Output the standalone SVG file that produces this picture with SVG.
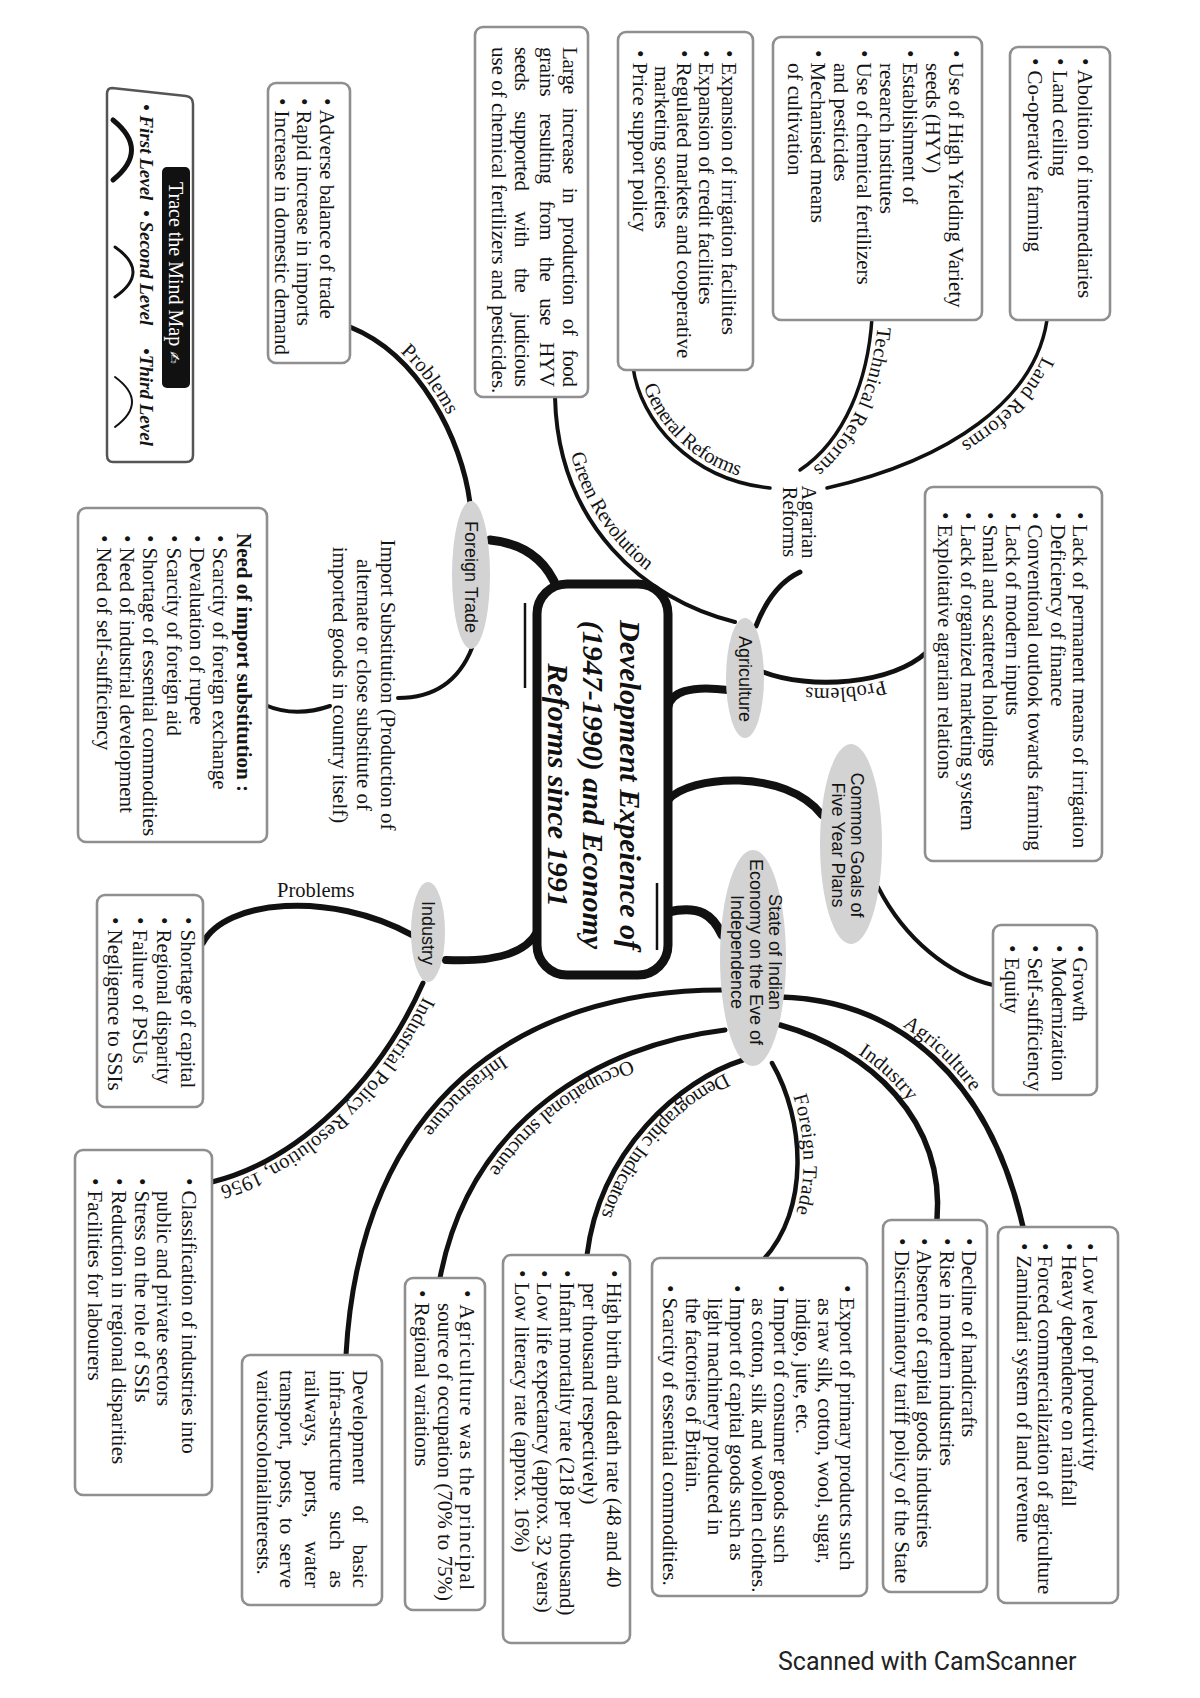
<svg xmlns="http://www.w3.org/2000/svg" width="1200" height="1698" viewBox="0 0 1200 1698">
<style>
.bx{fill:#fff;stroke:#8f8f8f;stroke-width:2.6}
.t{font-family:"Liberation Serif","Times New Roman",serif;font-size:21px;fill:#141414}
.nd{fill:#d3d3d3}
.nl{font-family:"Liberation Sans",Arial,sans-serif;font-size:18px;fill:#141414;text-anchor:middle}
.cl{font-family:"Liberation Serif","Times New Roman",serif;font-size:20.5px;fill:#141414}
.k{fill:none;stroke:#111;stroke-linecap:round}
.ttl{font-family:"Liberation Serif","Times New Roman",serif;font-size:30px;font-weight:bold;font-style:italic;fill:#111;text-anchor:middle}
.lg{font-family:"Liberation Serif","Times New Roman",serif;font-size:19px;font-weight:bold;font-style:italic;fill:#141414}
</style>
<rect width="1200" height="1698" fill="#fff"/>

<g id="connectors">
<path id="k1" class="k" stroke-width="9" d="M557,588 Q540,545 490,540"/>
<path id="k2" class="k" stroke-width="8" d="M668,708 C670,692 690,685 728,690"/>
<path id="k3" class="k" stroke-width="8" d="M668,800 C690,775 785,768 822,815"/>
<path id="k4" class="k" stroke-width="9" d="M668,912 C700,905 713,915 722,935"/>
<path id="k5" class="k" stroke-width="8" d="M537,932 C525,955 490,962 446,960"/>
<path id="pFTprob" class="k" stroke-width="5" d="M350,327 C420,355 462,440 470,503"/>
<path id="pFTimp" class="k" stroke-width="4" d="M472,648 Q452,698 398,698"/>
<path id="pImpNeed" class="k" stroke-width="4" d="M265,705 Q295,718 330,706"/>
<path id="pAgrarian" class="k" stroke-width="5" d="M756,626 Q772,585 800,572"/>
<path id="pGreen" class="k" stroke-width="4" d="M555,397 C558,525 645,600 735,622"/>
<path id="pGeneral" class="k" stroke-width="3.5" d="M633,367 C640,420 690,480 770,488"/>
<path id="pTech" class="k" stroke-width="3.5" d="M872,318 C868,380 845,440 800,470"/>
<path id="pLand" class="k" stroke-width="3.5" d="M1047,320 C1035,400 950,460 827,488"/>
<path id="pAgriProb" class="k" stroke-width="5" d="M927,652 C890,685 810,690 763,672"/>
<path id="pGoals" class="k" stroke-width="4" d="M878,887 C905,940 950,975 993,985"/>
<path id="pSAgri" class="k" stroke-width="5.5" d="M780,997 C900,1000 990,1080 1023,1227"/>
<path id="pSInd" class="k" stroke-width="5.5" d="M780,1025 C870,1050 945,1120 937,1220"/>
<path id="pSFT" class="k" stroke-width="4.5" d="M772,1063 C805,1120 810,1210 763,1260"/>
<path id="pSDem" class="k" stroke-width="5" d="M743,1060 C680,1080 600,1150 587,1255"/>
<path id="pSOcc" class="k" stroke-width="5" d="M725,1030 C600,1045 470,1120 440,1278"/>
<path id="pSInf" class="k" stroke-width="5" d="M722,990 C520,990 360,1100 346,1355"/>
<path id="pIProb" class="k" stroke-width="6" d="M203,943 C225,900 330,890 412,935"/>
<path id="pIPol" class="k" stroke-width="5" d="M423,983 C380,1080 300,1160 212,1182"/>

<text class="cl"><textPath href="#pFTprob" startOffset="55"><tspan dy="-6">Problems</tspan></textPath></text>
<text class="cl"><textPath href="#pGreen" startOffset="60"><tspan dy="-8">Green Revolution</tspan></textPath></text>
<text class="cl"><textPath href="#pGeneral" startOffset="22"><tspan dy="-6">General Reforms</tspan></textPath></text>
<text class="cl" font-size="19.5"><textPath href="#pTech" startOffset="8"><tspan dy="-6">Technical Reforms</tspan></textPath></text>
<text class="cl"><textPath href="#pLand" startOffset="35"><tspan dy="-6">Land Reforms</tspan></textPath></text>
<text class="cl"><textPath href="#pAgriProb" startOffset="50"><tspan dy="-6">Problems</tspan></textPath></text>
<text class="cl"><textPath href="#pSAgri" startOffset="125"><tspan dy="-6">Agriculture</tspan></textPath></text>
<text class="cl"><textPath href="#pSInd" startOffset="82"><tspan dy="-6">Industry</tspan></textPath></text>
<text class="cl"><textPath href="#pSFT" startOffset="38"><tspan dy="-6">Foreign Trade</tspan></textPath></text>
<text class="cl"><textPath href="#pSDem" startOffset="22"><tspan dy="-6">Demographic Indicators</tspan></textPath></text>
<text class="cl"><textPath href="#pSOcc" startOffset="100"><tspan dy="-6">Occupational structure</tspan></textPath></text>
<text class="cl"><textPath href="#pSInf" startOffset="235"><tspan dy="-6">Infrastructure</tspan></textPath></text>
<text class="cl"><textPath href="#pIPol" startOffset="12"><tspan dy="-6">Industrial Policy Resolution, 1956</tspan></textPath></text>
<text class="cl" x="277" y="897" font-size="21">Problems</text>
</g>

<g id="center">
<rect x="537" y="584" width="131" height="391" rx="30" fill="#fff" stroke="#111" stroke-width="9"/>
<line x1="525" y1="603" x2="525" y2="688" stroke="#111" stroke-width="2.5"/>
<line x1="657" y1="883" x2="657" y2="950" stroke="#111" stroke-width="2.5"/>
<text class="ttl" transform="translate(620,785) rotate(90)">Development Expeience of</text>
<text class="ttl" transform="translate(583,785) rotate(90)">(1947-1990) and Economy</text>
<text class="ttl" transform="translate(548,785) rotate(90)">Reforms since 1991</text>
</g>

<g id="node-foreign-trade"><ellipse class="nd" cx="471" cy="575" rx="19" ry="74"/><text class="nl" transform="translate(465,577) rotate(90)">Foreign Trade</text></g>
<g id="node-agriculture"><ellipse class="nd" cx="745" cy="678" rx="19" ry="60"/><text class="nl" transform="translate(739,679) rotate(90)">Agriculture</text></g>
<g id="node-industry"><ellipse class="nd" cx="428" cy="932" rx="17" ry="50"/><text class="nl" transform="translate(422,933) rotate(90)">Industry</text></g>
<g id="node-common-goals"><ellipse class="nd" cx="851" cy="844" rx="31" ry="100"/><text class="nl" transform="translate(851,845) rotate(90)">Common Goals of</text><text class="nl" transform="translate(832,845) rotate(90)">Five Year Plans</text></g>
<g id="node-state"><ellipse class="nd" cx="753" cy="958" rx="33" ry="108"/><text class="nl" transform="translate(769,952) rotate(90)">State of Indian</text><text class="nl" transform="translate(750,952) rotate(90)">Economy on the Eve of</text><text class="nl" transform="translate(731,952) rotate(90)">Independence</text></g>
<g id="node-agrarian"><text class="cl" text-anchor="middle" transform="translate(802,522) rotate(90)">Agrarian</text><text class="cl" text-anchor="middle" transform="translate(783,522) rotate(90)">Reforms</text></g>
<g id="node-import-sub"><text class="t" text-anchor="middle" transform="translate(381,685) rotate(90)">Import Substitution (Production of</text><text class="t" text-anchor="middle" transform="translate(357,685) rotate(90)">alternate or close substitute of</text><text class="t" text-anchor="middle" transform="translate(333,685) rotate(90)">imported goods in country itself)</text></g>

<g id="box-land" transform="translate(1110,47) rotate(90)">
<rect class="bx" width="273" height="100" rx="8"/>
<text class="t"><tspan x="11" y="32">• Abolition of intermediaries</tspan><tspan x="11" y="57">• Land ceiling</tspan><tspan x="11" y="82">• Co-operative farming</tspan></text>
</g>
<g id="box-technical" transform="translate(982,37) rotate(90)">
<rect class="bx" width="283" height="209" rx="8"/>
<text class="t"><tspan x="13" y="33">• Use of High Yielding Variety</tspan><tspan x="26" y="56">seeds (HYV)</tspan><tspan x="13" y="79">• Establishment of</tspan><tspan x="26" y="102">research institutes</tspan><tspan x="13" y="125">• Use of chemical fertilizers</tspan><tspan x="26" y="148">and pesticides</tspan><tspan x="13" y="171">• Mechanised means</tspan><tspan x="26" y="194">of cultivation</tspan></text>
</g>
<g id="box-general" transform="translate(753,32) rotate(90)">
<rect class="bx" width="338" height="135" rx="8"/>
<text class="t"><tspan x="18" y="31">• Expansion of irrigation facilities</tspan><tspan x="18" y="54">• Expansion of credit facilities</tspan><tspan x="18" y="76">• Regulated markets and cooperative</tspan><tspan x="34" y="98">marketing societies</tspan><tspan x="18" y="120">• Price support policy</tspan></text>
</g>
<g id="box-green" transform="translate(588,27) rotate(90)">
<rect class="bx" width="370" height="113" rx="8"/>
<text class="t" font-size="20"><tspan x="20" y="25" textLength="340" lengthAdjust="spacing" word-spacing="9">Large increase in production of food</tspan></text>
<text class="t" font-size="20"><tspan x="20" y="48" textLength="340" lengthAdjust="spacing" word-spacing="12">grains resulting from the use HYV</tspan></text>
<text class="t" font-size="20"><tspan x="20" y="73" textLength="340" lengthAdjust="spacing" word-spacing="16">seeds supported with the judicious</tspan></text>
<text class="t" font-size="20"><tspan x="20" y="96">use of chemical fertilizers and pesticides.</tspan></text>
</g>
<g id="box-ft-problems" transform="translate(350,83) rotate(90)">
<rect class="bx" width="280" height="82" rx="8"/>
<text class="t"><tspan x="15" y="30">• Adverse balance of trade</tspan><tspan x="15" y="53">• Rapid increase in imports</tspan><tspan x="15" y="75">• Increase in domestic demand</tspan></text>
</g>
<g id="box-need" transform="translate(267,508) rotate(90)">
<rect class="bx" width="334" height="189" rx="8"/>
<text class="t"><tspan x="25" y="30" font-weight="bold">Need of import substitution :</tspan><tspan x="27" y="54">• Scarcity of foreign exchange</tspan><tspan x="27" y="77">• Devaluation of rupee</tspan><tspan x="27" y="100">• Scarcity of foreign aid</tspan><tspan x="27" y="124">• Shortage of essential commodities</tspan><tspan x="27" y="147">• Need of industrial development</tspan><tspan x="27" y="170">• Need of self-sufficiency</tspan></text>
</g>
<g id="box-agri-problems" transform="translate(1102,487) rotate(90)">
<rect class="bx" width="374" height="177" rx="8"/>
<text class="t"><tspan x="25" y="29">• Lack of permanent means of irrigation</tspan><tspan x="25" y="51">• Deficiency of finance</tspan><tspan x="25" y="74">• Conventional outlook towards farming</tspan><tspan x="25" y="96">• Lack of modern inputs</tspan><tspan x="25" y="119">• Small and scattered holdings</tspan><tspan x="25" y="141">• Lack of organized marketing system</tspan><tspan x="25" y="164">• Exploitative agrarian relations</tspan></text>
</g>
<g id="box-goals" transform="translate(1097,925) rotate(90)">
<rect class="bx" width="170" height="104" rx="8"/>
<text class="t"><tspan x="20" y="24">• Growth</tspan><tspan x="20" y="45">• Modernization</tspan><tspan x="20" y="69">• Self-sufficiency</tspan><tspan x="20" y="92">• Equity</tspan></text>
</g>
<g id="box-ind-problems" transform="translate(203,895) rotate(90)">
<rect class="bx" width="212" height="106" rx="8"/>
<text class="t"><tspan x="22" y="22">• Shortage of capital</tspan><tspan x="22" y="46">• Regional disparity</tspan><tspan x="22" y="70">• Failure of PSUs</tspan><tspan x="22" y="95">• Negligence to SSIs</tspan></text>
</g>
<g id="box-policy" transform="translate(212,1150) rotate(90)">
<rect class="bx" width="345" height="137" rx="8"/>
<text class="t"><tspan x="28" y="30">• Classification of industries into</tspan><tspan x="41" y="55">public and private sectors</tspan><tspan x="28" y="77">• Stress on the role of SSIs</tspan><tspan x="28" y="100">• Reduction in regional disparities</tspan><tspan x="28" y="124">• Facilities for labourers</tspan></text>
</g>
<g id="box-infra" transform="translate(382,1355) rotate(90)">
<rect class="bx" width="250" height="140" rx="8"/>
<text class="t"><tspan x="15" y="29" textLength="218" lengthAdjust="spacing" word-spacing="16">Development of basic</tspan></text>
<text class="t"><tspan x="15" y="52" textLength="218" lengthAdjust="spacing" word-spacing="15">infra-structure such as</tspan></text>
<text class="t"><tspan x="15" y="77" textLength="218" lengthAdjust="spacing" word-spacing="18">railways, ports, water</tspan></text>
<text class="t"><tspan x="15" y="102" textLength="218" lengthAdjust="spacing" word-spacing="4">transport, posts, to serve</tspan></text>
<text class="t"><tspan x="15" y="125">variouscolonialinterests.</tspan></text>
</g>
<g id="box-occupation" transform="translate(485,1278) rotate(90)">
<rect class="bx" width="332" height="80" rx="8"/>
<text class="t"><tspan x="12" y="25" textLength="300" lengthAdjust="spacing">• Agriculture was the principal</tspan></text>
<text class="t"><tspan x="25" y="47">source of occupation (70% to 75%)</tspan><tspan x="12" y="70">• Regional variations</tspan></text>
</g>
<g id="box-demographic" transform="translate(630,1255) rotate(90)">
<rect class="bx" width="388" height="127" rx="8"/>
<text class="t"><tspan x="15" y="23">• High birth and death rate (48 and 40</tspan><tspan x="28" y="47">per thousand respectively)</tspan><tspan x="15" y="70">• Infant mortality rate (218 per thousand)</tspan><tspan x="15" y="93">• Low life expectancy (approx. 32 years)</tspan><tspan x="15" y="115">• Low literacy rate (approx. 16%)</tspan></text>
</g>
<g id="box-ft-history" transform="translate(867,1258) rotate(90)">
<rect class="bx" width="338" height="215" rx="8"/>
<text class="t"><tspan x="27" y="27">• Export of primary products such</tspan><tspan x="40" y="49">as raw silk, cotton, wool, sugar,</tspan><tspan x="40" y="71">indigo, jute, etc.</tspan><tspan x="27" y="93">• Import of consumer goods such</tspan><tspan x="40" y="115">as cotton, silk and woollen clothes.</tspan><tspan x="27" y="137">• Import of capital goods such as</tspan><tspan x="40" y="159">light machinery produced in</tspan><tspan x="40" y="181">the factories of Britain.</tspan><tspan x="27" y="204">• Scarcity of essential commodities.</tspan></text>
</g>
<g id="box-ind-history" transform="translate(987,1220) rotate(90)">
<rect class="bx" width="372" height="104" rx="8"/>
<text class="t"><tspan x="18" y="25">• Decline of handicrafts</tspan><tspan x="18" y="47">• Rise in modern industries</tspan><tspan x="18" y="70">• Absence of capital goods industries</tspan><tspan x="18" y="92">• Discriminatory tariff policy of the State</tspan></text>
</g>
<g id="box-agri-history" transform="translate(1118,1227) rotate(90)">
<rect class="bx" width="376" height="120" rx="8"/>
<text class="t"><tspan x="16" y="35">• Low level of productivity</tspan><tspan x="16" y="56">• Heavy dependence on rainfall</tspan><tspan x="16" y="80">• Forced commercialization of agriculture</tspan><tspan x="16" y="101">• Zamindari system of land revenue</tspan></text>
</g>

<g id="legend">
<path d="M112,88 L186,96 Q193,97 193,104 L193,455 Q193,462 186,462 L113,462 Q107,462 107,455 L107,94 Q107,88 112,88 Z" fill="#fff" stroke="#555" stroke-width="2.5"/>
<rect x="162" y="167" width="28" height="221" rx="5" fill="#111"/>
<text transform="translate(169,182) rotate(90)" font-family="Liberation Serif, serif" font-size="20" fill="#fff">Trace the Mind Map <tspan font-family="DejaVu Sans, sans-serif" font-size="15">✍</tspan></text>
<text class="lg" transform="translate(140,104) rotate(90)">• First Level</text>
<text class="lg" transform="translate(140,210) rotate(90)">• Second Level</text>
<text class="lg" transform="translate(140,348) rotate(90)">•Third Level</text>
<path class="k" stroke-width="5" d="M113,120 Q150,150 113,180"/>
<path class="k" stroke-width="3" d="M115,247 Q151,272 115,297"/>
<path class="k" stroke-width="2" d="M115,377 Q149,402 115,427"/>
</g>

<text x="778" y="1670" font-family="Roboto, sans-serif" font-size="25" fill="#222">Scanned with CamScanner</text>
</svg>
